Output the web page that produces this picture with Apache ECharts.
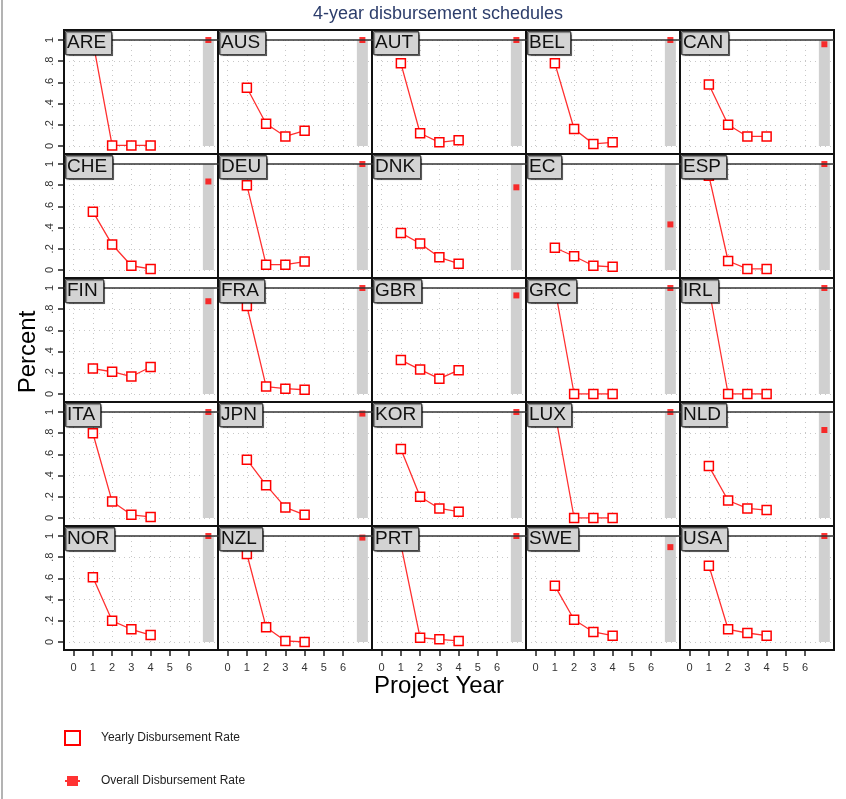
<!DOCTYPE html>
<html>
<head>
<meta charset="utf-8">
<script src="https://cdn.jsdelivr.net/npm/echarts@6/dist/echarts.min.js"></script>
<style>
  html, body { margin: 0; padding: 0; background: #fff; }
  #chart { width: 846px; height: 799px; }
</style>
</head>
<body>
<div id="chart"></div>
<script>
// panels, read left to right, top to bottom
const countries = ['ARE', 'AUS', 'AUT', 'BEL', 'CAN',
                   'CHE', 'DEU', 'DNK', 'EC', 'ESP',
                   'FIN', 'FRA', 'GBR', 'GRC', 'IRL',
                   'ITA', 'JPN', 'KOR', 'LUX', 'NLD',
                   'NOR', 'NZL', 'PRT', 'SWE', 'USA'];
const years = [1, 2, 3, 4];
const year1 = [0.99, 0.55, 0.78, 0.78, 0.58,
               0.55, 0.80, 0.35, 0.21, 0.89,
               0.24, 0.83, 0.32, 1.00, 1.00,
               0.80, 0.55, 0.65, 1.00, 0.49,
               0.61, 0.83, 0.92, 0.53, 0.72];
const year2 = [0.005, 0.21, 0.12, 0.16, 0.20,
               0.24, 0.05, 0.25, 0.13, 0.085,
               0.21, 0.07, 0.23, 0.0, 0.0,
               0.155, 0.31, 0.20, 0.0, 0.165,
               0.20, 0.14, 0.04, 0.21, 0.12];
const year3 = [0.005, 0.09, 0.035, 0.02, 0.09,
               0.04, 0.05, 0.12, 0.04, 0.01,
               0.165, 0.05, 0.145, 0.0, 0.0,
               0.03, 0.10, 0.09, 0.0, 0.09,
               0.12, 0.01, 0.025, 0.095, 0.085];
const year4 = [0.005, 0.145, 0.055, 0.035, 0.09,
               0.01, 0.08, 0.06, 0.03, 0.01,
               0.255, 0.04, 0.225, 0.0, 0.0,
               0.01, 0.03, 0.06, 0.0, 0.075,
               0.065, 0.0, 0.01, 0.06, 0.06];
const overall = [1.0, 1.0, 1.0, 1.0, 0.96,
                 0.835, 1.0, 0.78, 0.43, 1.0,
                 0.875, 1.0, 0.93, 1.0, 1.0,
                 1.0, 0.985, 1.0, 1.0, 0.83,
                 1.0, 0.985, 1.0, 0.895, 1.0];
const overallYear = 7;   // the overall column sits after year 6
const barTop = 1;        // grey reference bar height
const xTickLabels = [0, 1, 2, 3, 4, 5, 6];
const yTickLabels = ['0', '.2', '.4', '.6', '.8', '1'];

const FONT = '"Liberation Sans", Arial, sans-serif';
const COLS = 5, ROWS = 5;
const X0 = 64, Y0 = 30, PW = 154, PH = 124;

const chart = echarts.init(document.getElementById('chart'));

const grids = [], xAxes = [], yAxes = [], series = [], titles = [], frames = [];
const rates = [year1, year2, year3, year4];

countries.forEach((name, i) => {
  const r = Math.floor(i / COLS), c = i % COLS;
  const left = X0 + c * PW, top = Y0 + r * PH;
  const isLeft = c === 0, isBottom = r === ROWS - 1;

  grids.push({ left: left, top: top + 10, width: PW, height: 106 });

  xAxes.push({
    gridIndex: i, type: 'value', min: -0.5, max: 7.5, splitNumber: 8, offset: 8,
    axisLine: { show: false, onZero: false },
    axisTick: { show: isBottom, length: 6, customValues: xTickLabels, lineStyle: { color: '#222', width: 1.5 } },
    axisLabel: { show: isBottom, customValues: xTickLabels, fontSize: 11, color: '#333', margin: 12 },
    splitLine: { show: true, lineStyle: { color: '#c8c8c8', type: [1, 4] } }
  });

  yAxes.push({
    gridIndex: i, type: 'value', min: 0, max: 1, interval: 0.2,
    axisLine: { show: false, onZero: false },
    axisTick: { show: isLeft, length: 6, lineStyle: { color: '#222', width: 1.5 } },
    axisLabel: {
      show: isLeft, rotate: 90, fontSize: 11, color: '#333', margin: 9,
      formatter: v => yTickLabels[Math.round(v * 5)]
    },
    splitLine: { show: true, lineStyle: { color: '#c8c8c8', type: [1, 4] } }
  });

  series.push({
    type: 'bar', xAxisIndex: i, yAxisIndex: i, silent: true, barWidth: 11, z: 1,
    data: [[overallYear, barTop]],
    itemStyle: { color: '#d0d0d0' }
  });

  series.push({
    type: 'line', name: 'Yearly Disbursement Rate', xAxisIndex: i, yAxisIndex: i, z: 3,
    data: years.map((y, k) => [y, rates[k][i]]),
    symbol: 'rect', symbolSize: 9,
    itemStyle: { color: '#fff', borderColor: '#ff0000', borderWidth: 1.5 },
    lineStyle: { color: '#ff3030', width: 1.3 },
    markLine: {
      silent: true, symbol: 'none', label: { show: false },
      lineStyle: { color: '#333', width: 1.5, type: 'solid' },
      data: [{ yAxis: 1 }]
    }
  });

  series.push({
    type: 'scatter', name: 'Overall Disbursement Rate', xAxisIndex: i, yAxisIndex: i, z: 4,
    data: [[overallYear, overall[i]]],
    symbol: 'rect', symbolSize: 6,
    itemStyle: { color: '#ff0000' }
  });

  titles.push({
    text: name, left: left + 1, top: top + 1,
    backgroundColor: '#d3d3d3', borderColor: '#444', borderWidth: 1,
    shadowColor: 'rgba(0,0,0,0.45)', shadowOffsetX: 1, shadowOffsetY: 1, shadowBlur: 1,
    padding: [2, 6, 2, 2],
    textStyle: { fontSize: 19, fontWeight: 'normal', color: '#111', fontFamily: FONT, lineHeight: 20 }
  });

  frames.push({
    type: 'rect', z: 5, silent: true,
    shape: { x: left, y: top, width: PW, height: PH },
    style: { fill: 'none', stroke: '#111', lineWidth: 2 }
  });
});

const option = {
  animation: false,
  textStyle: { fontFamily: FONT },
  title: titles,
  grid: grids,
  xAxis: xAxes,
  yAxis: yAxes,
  legend: {
    orient: 'vertical', left: 59, top: 725,
    itemWidth: 15, itemHeight: 14, itemGap: 29,
    selectedMode: false,
    textStyle: { fontSize: 12, color: '#222', padding: [0, 0, 0, 16] },
    data: [
      { name: 'Yearly Disbursement Rate', icon: 'rect',
        itemStyle: { color: '#fff', borderColor: '#ff0000', borderWidth: 2 } },
      { name: 'Overall Disbursement Rate',
        icon: 'path://M0,4L2,4L2,0L13,0L13,4L15,4L15,6L13,6L13,10L2,10L2,6L0,6Z',
        itemStyle: { color: '#ff0000', borderWidth: 0 } }
    ]
  },
  graphic: [
    { type: 'line', silent: true, shape: { x1: 2, y1: 0, x2: 2, y2: 799 },
      style: { stroke: '#9a9a9a', lineWidth: 1.5 } },
    { type: 'text', silent: true, x: 438, y: 14,
      style: { text: '4-year disbursement schedules', fill: '#2c3d6b', font: '18px ' + FONT,
               align: 'center', verticalAlign: 'middle' } },
    { type: 'text', silent: true, x: 28, y: 352, rotation: Math.PI / 2,
      style: { text: 'Percent', fill: '#000', font: '24px ' + FONT,
               align: 'center', verticalAlign: 'middle' } },
    { type: 'text', silent: true, x: 439, y: 686,
      style: { text: 'Project Year', fill: '#000', font: '24px ' + FONT,
               align: 'center', verticalAlign: 'middle' } }
  ].concat(frames),
  series: series
};

chart.setOption(option);
</script>
</body>
</html>
